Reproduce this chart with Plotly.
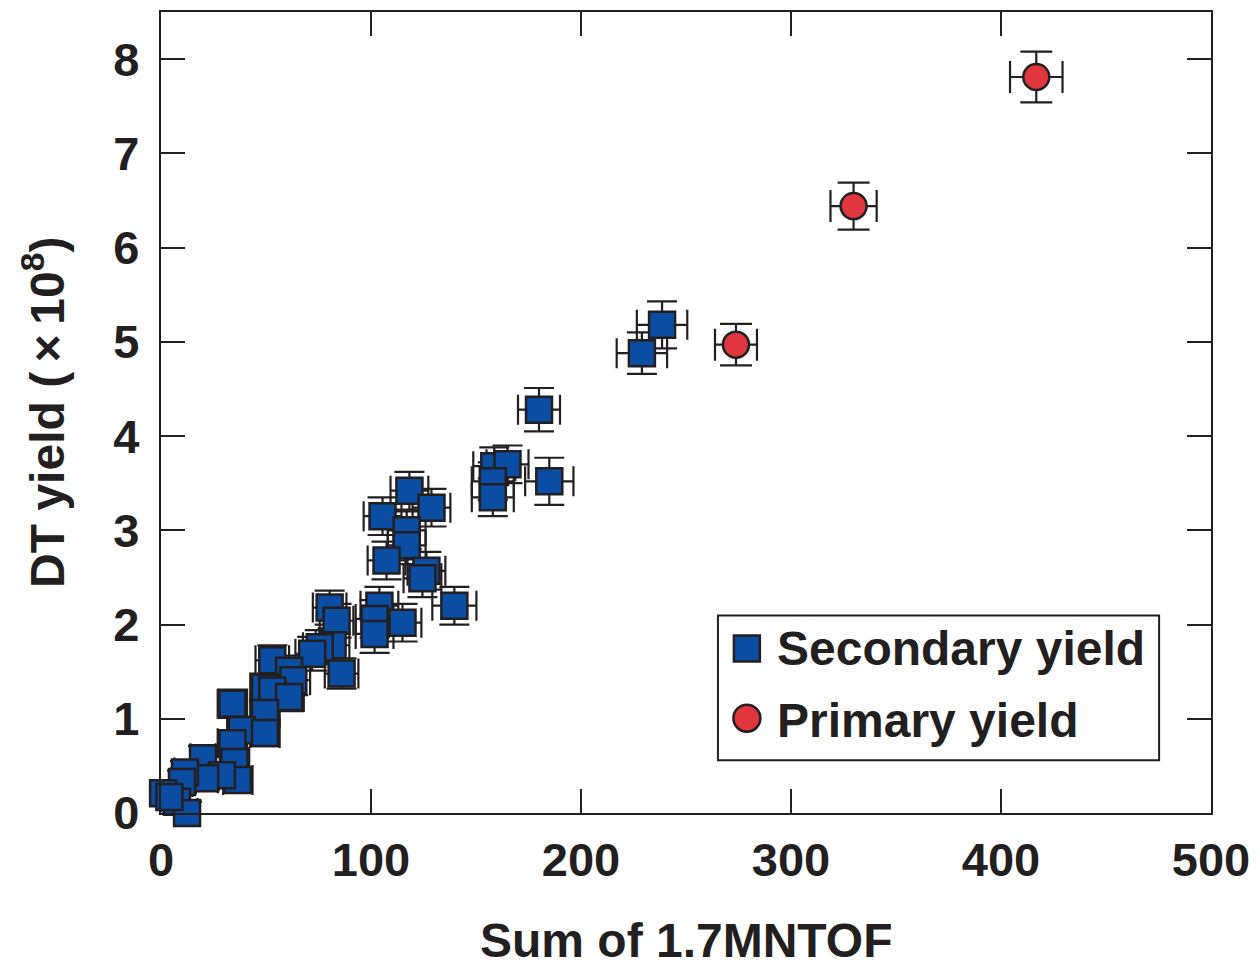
import plotly.graph_objects as go

# Secondary yield data (Sum of 1.7MNTOF, DT yield x1e8) with error bars
sec_x = [238.6, 229.0, 180.0, 184.9, 158.7, 165.0, 158.0, 158.0, 118.3, 105.5,
         128.8, 117.0, 117.0, 107.4, 126.4, 124.5, 139.7, 104.0, 115.0, 101.7,
         101.7, 80.3, 83.6, 81.7, 75.6, 72.0, 86.0, 53.0, 61.0, 63.0,
         49.5, 53.0, 61.0, 34.0, 49.5, 38.5, 49.5, 34.0, 35.0, 20.0,
         36.6, 29.0, 21.0, 11.4, 10.0, 7.6, 12.4, 1.0, 4.0]
sec_y = [5.18, 4.88, 4.28, 3.52, 3.68, 3.70, 3.52, 3.35, 3.42, 3.15,
         3.24, 3.00, 2.84, 2.68, 2.57, 2.49, 2.20, 2.20, 2.02, 2.06,
         1.90, 2.18, 2.04, 1.78, 1.76, 1.69, 1.48, 1.62, 1.51, 1.41,
         1.33, 1.30, 1.23, 1.16, 1.06, 0.88, 0.85, 0.74, 0.54, 0.58,
         0.35, 0.40, 0.37, 0.43, 0.33, 0.12, 0.00, 0.21, 0.17]
sec_xerr = [12.0, 12.0, 10.0, 11.5, 10.0, 10.0, 10.0, 10.0, 9.0, 9.0,
            9.0, 9.0, 9.0, 9.0, 9.0, 9.0, 10.5, 9.0, 9.0, 9.0,
            9.0, 8.0, 8.0, 8.0, 8.0, 8.0, 8.0, 8.0, 8.0, 8.0,
            7.0, 7.0, 7.0, 7.0, 7.0, 7.0, 7.0, 7.0, 7.0, 6.0,
            7.0, 6.0, 6.0, 5.0, 5.0, 5.0, 5.0, 4.0, 4.0]
sec_yerr = [0.25, 0.22, 0.23, 0.25, 0.2, 0.2, 0.2, 0.2, 0.2, 0.2,
            0.2, 0.2, 0.2, 0.2, 0.2, 0.2, 0.2, 0.2, 0.2, 0.2,
            0.2, 0.18, 0.18, 0.18, 0.18, 0.18, 0.16, 0.16, 0.16, 0.16,
            0.15, 0.15, 0.15, 0.15, 0.15, 0.14, 0.14, 0.14, 0.13, 0.13,
            0.12, 0.12, 0.12, 0.12, 0.12, 0.12, 0.12, 0.12, 0.12]

# Primary yield data
pri_x = [273.8, 329.8, 416.8]
pri_y = [4.97, 6.44, 7.81]
pri_xerr = [10.0, 11.0, 12.5]
pri_yerr = [0.22, 0.25, 0.27]

x_ticks = [0, 100, 200, 300, 400, 500]
y_ticks = [0, 1, 2, 3, 4, 5, 6, 7, 8]
series_names = ["Secondary yield", "Primary yield"]

INK = "#231F20"
BLUE = "#0B4DA2"
RED = "#E2363F"
FAM = "Liberation Sans, Arial, sans-serif"
TICKFONT = dict(family=FAM, size=47, color=INK, weight="bold")
TITLEFONT = dict(family=FAM, size=48, color=INK, weight="bold")

fig = go.Figure()
fig.add_trace(go.Scatter(
    x=sec_x, y=sec_y, mode="markers", name=series_names[0],
    marker=dict(symbol="square", size=26, color=BLUE, line=dict(color=INK, width=2.5)),
    error_x=dict(type="data", array=sec_xerr, color=INK, thickness=2.2, width=15),
    error_y=dict(type="data", array=sec_yerr, color=INK, thickness=2.2, width=15),
    cliponaxis=False, showlegend=False,
))
fig.add_trace(go.Scatter(
    x=pri_x, y=pri_y, mode="markers", name=series_names[1],
    marker=dict(symbol="circle", size=26, color=RED, line=dict(color=INK, width=2.5)),
    error_x=dict(type="data", array=pri_xerr, color=INK, thickness=2.2, width=16),
    error_y=dict(type="data", array=pri_yerr, color=INK, thickness=2.2, width=16),
    cliponaxis=False, showlegend=False,
))

axis_common = dict(
    showgrid=False, zeroline=False, showline=True, linecolor=INK, linewidth=2.2,
    mirror="allticks", ticks="inside", ticklen=24, tickwidth=2.2, tickcolor=INK,
    tickfont=TICKFONT,
)
fig.update_xaxes(range=[0, 500], tickvals=x_ticks, ticktext=[str(v) for v in x_ticks],
                 ticklabelstandoff=4, **axis_common)
fig.update_yaxes(range=[0, 8.5], tickvals=y_ticks, ticktext=[str(v) for v in y_ticks],
                 ticklabelstandoff=10, **axis_common)

fig.add_annotation(text="Sum of 1.7MNTOF", xref="paper", yref="paper",
                   x=0.5, y=-0.123, xanchor="center", yanchor="top",
                   showarrow=False, font=TITLEFONT)
fig.add_annotation(text="DT yield (\u2009×\u200910<sup>8</sup>)", xref="paper", yref="paper",
                   x=-0.112, y=0.5, xanchor="center", yanchor="middle", textangle=-90,
                   showarrow=False, font=TITLEFONT)

# Legend drawn manually (larger symbols than plotly's legend allows)
def px_x(p):
    return (p - 161) / 1052

def px_y(p):
    return (813 - p) / 803

fig.add_shape(type="rect", xref="paper", yref="paper",
              x0=px_x(719), x1=px_x(1161), y0=px_y(760), y1=px_y(615),
              line=dict(color=INK, width=2), fillcolor="white", layer="above")
fig.add_shape(type="rect", xref="paper", yref="paper",
              x0=px_x(735), x1=px_x(761), y0=px_y(661), y1=px_y(635),
              line=dict(color=INK, width=2.5), fillcolor=BLUE, layer="above")
fig.add_shape(type="circle", xref="paper", yref="paper",
              x0=px_x(734.5), x1=px_x(761.5), y0=px_y(731.5), y1=px_y(704.5),
              line=dict(color=INK, width=2.5), fillcolor=RED, layer="above")
fig.add_annotation(text=series_names[0], xref="paper", yref="paper",
                   x=px_x(776), y=px_y(648), xanchor="left", yanchor="middle",
                   showarrow=False, font=TITLEFONT)
fig.add_annotation(text=series_names[1], xref="paper", yref="paper",
                   x=px_x(776), y=px_y(720), xanchor="left", yanchor="middle",
                   showarrow=False, font=TITLEFONT)

fig.update_layout(
    width=1260, height=964,
    margin=dict(l=161, r=47, t=10, b=151),
    paper_bgcolor="white", plot_bgcolor="white",
    showlegend=False,
)

fig.write_html("out.html")
